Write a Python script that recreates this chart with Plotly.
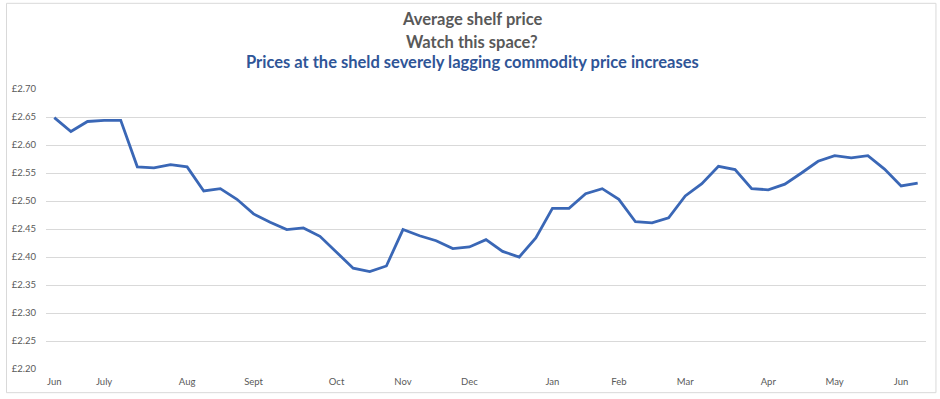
import plotly.graph_objects as go

# Weekly average shelf price (GBP), 53 weeks Jun -> Jun
prices = [
    2.649, 2.624, 2.642, 2.644, 2.644, 2.561, 2.559, 2.565, 2.561, 2.518,
    2.522, 2.503, 2.477, 2.462, 2.449, 2.452, 2.437, 2.408, 2.380, 2.374,
    2.384, 2.449, 2.438, 2.429, 2.415, 2.418, 2.431, 2.410, 2.400, 2.434,
    2.487, 2.487, 2.513, 2.522, 2.503, 2.463, 2.461, 2.470, 2.509, 2.531,
    2.562, 2.556, 2.522, 2.520, 2.530, 2.550, 2.571, 2.581, 2.577, 2.581,
    2.557, 2.527, 2.532,
]
weeks = list(range(len(prices)))

month_positions = [0, 3, 8, 12, 17, 21, 25, 30, 34, 38, 43, 47, 51]
month_labels = ["Jun", "July", "Aug", "Sept", "Oct", "Nov", "Dec",
                "Jan", "Feb", "Mar", "Apr", "May", "Jun"]

y_ticks = [2.20, 2.25, 2.30, 2.35, 2.40, 2.45, 2.50, 2.55, 2.60, 2.65, 2.70]
y_labels = ["£%.2f" % v for v in y_ticks]

title_lines = ["Average shelf price", "Watch this space?",
               "Prices at the sheld severely lagging commodity price increases"]

FONT = "Lato, 'Open Sans', sans-serif"
GREY = "#595959"

fig = go.Figure()
fig.add_trace(go.Scatter(
    x=weeks, y=prices, mode="lines",
    line=dict(color="#3A67B6", width=2.8),
    hoverinfo="y", showlegend=False,
))

fig.update_layout(
    width=940, height=399,
    margin=dict(l=42, r=14, t=89, b=26),
    paper_bgcolor="white", plot_bgcolor="white",
    font=dict(family=FONT, color=GREY, size=9.5),
    xaxis=dict(
        range=[-0.5, len(prices) - 0.5],
        tickmode="array", tickvals=month_positions, ticktext=month_labels,
        showgrid=False, zeroline=False, showline=False,
        ticks="", ticklabelstandoff=5,
        tickfont=dict(size=9.5, color=GREY),
        fixedrange=True,
    ),
    yaxis=dict(
        range=[2.20, 2.70],
        tickmode="array", tickvals=y_ticks, ticktext=y_labels,
        showgrid=True, gridcolor="#D9D9D9", gridwidth=1,
        zeroline=False, showline=False, ticks="",
        ticklabelstandoff=9,
        tickfont=dict(size=9.5, color=GREY),
        fixedrange=True,
    ),
)

ann_y = [1.25, 1.169, 1.095]
ann_colors = [GREY, GREY, "#2F5597"]
for text, yy, col in zip(title_lines, ann_y, ann_colors):
    fig.add_annotation(
        text="<b>%s</b>" % text, xref="paper", yref="paper",
        x=0.4845, y=yy, xanchor="center", yanchor="middle",
        showarrow=False, font=dict(family=FONT, size=16.5, color=col),
    )

# chart border
fig.add_shape(
    type="rect", xref="paper", yref="paper",
    x0=-0.0449, x1=1.0113, y0=-0.0845, y1=1.306,
    line=dict(color="#D9D9D9", width=1), fillcolor="rgba(0,0,0,0)",
    layer="below",
)

fig.write_html(
    "out.html",
    config={"displayModeBar": False},
    post_script="document.body.style.margin='0';document.body.style.overflow='hidden';",
)
